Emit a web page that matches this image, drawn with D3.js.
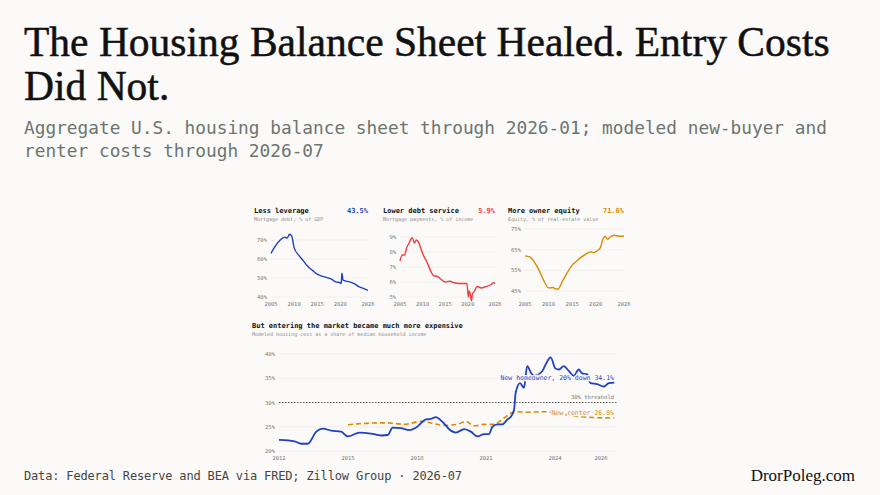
<!DOCTYPE html>
<html><head><meta charset="utf-8">
<script src="https://cdn.jsdelivr.net/npm/d3@7"></script>
<style>
body{margin:0;background:#fcfaf9;}
svg text{font-family:"DejaVu Sans Mono",monospace;}
</style></head><body>
<svg id="c" width="880" height="495"></svg>
<script>
// small panels
const leverageYears = [2005,2006,2007,2008,2008.5,2009,2009.5,2010,2011,2012,2013,2014,2015,2016,2017,2018,2019,2020,2020.2,2020.35,2020.6,2021,2022,2023,2024,2025,2026];
const leverage =      [63,67,70,71.5,71,73,72,66,62,59,56,54,52,51,50.3,49.5,48,47.5,47,52.5,49,48.5,48,47,45.5,44.5,43.5];
const serviceYears = [2005,2005.5,2006,2006.5,2007,2007.7,2008.2,2008.6,2009,2010,2011,2012,2012.5,2013,2014,2015,2016,2017,2018,2019,2019.8,2020.1,2020.3,2020.6,2020.8,2021,2021.5,2022,2023,2024,2025,2025.7,2026];
const service =      [7.4,7.8,7.8,8.3,8.6,8.95,8.6,8.8,8.7,7.9,7.3,6.6,6.4,6.4,6.2,6.0,6.05,5.95,5.9,5.9,5.9,5.0,5.4,5.1,4.75,5.2,5.4,5.7,5.6,5.7,5.8,5.95,5.9];
const equityYears = [2005,2006,2007,2008,2009,2010,2011,2011.5,2012,2013,2014,2015,2016,2017,2018,2019,2019.5,2020,2021,2021.5,2022,2022.5,2023,2024,2025,2026];
const equity =      [62,61.5,59,55,50,46.5,46.7,46,46,50,54,57.5,59.5,61.5,63,64,63.5,64,66,70,71.5,70,71,72,71.5,71.6];
// entry costs
const ownerYears = [2012,2012.68,2012.97,2013.26,2013.33,2013.62,2013.91,2014.27,2014.7,2014.99,2015.5,2016,2016.44,2016.73,2016.94,2017.3,2017.66,2017.95,2018.39,2018.6,2018.82,2019.11,2019.47,2019.69,2020.05,2020.34,2020.63,2020.92,2021.13,2021.28,2021.49,2021.71,2021.93,2022.07,2022.22,2022.29,2022.48,2022.65,2022.79,2022.97,2023.08,2023.45,2023.59,2023.81,2024.02,2024.17,2024.38,2024.6,2024.82,2025.03,2025.18,2025.4,2025.54,2025.83,2026.12,2026.34,2026.58];
const owner =      [22.3,22.0,21.5,21.5,21.8,24.0,24.6,24.2,24.0,23.0,23.8,23.6,23.2,23.3,24.8,24.7,24.3,24.8,26.5,26.6,27.0,26.0,24.2,23.8,24.5,24.0,23.0,23.5,23.5,25.0,25.5,25.5,26.5,27.0,28.5,32.0,34.0,33.0,37.5,36.0,35.5,36.5,37.8,39.3,37.0,36.8,37.5,36.5,35.5,36.8,36.0,35.8,34.0,33.8,33.3,34.0,34.1];
const renterYears = [2015,2016.29,2016.73,2017.45,2018.17,2019.18,2019.76,2020.12,2020.48,2020.92,2021.35,2021.78,2022.07,2022.29,2022.79,2023.52,2024.1,2024.82,2025.69,2026.58];
const renter =      [25.4,25.8,25.8,25.5,26.1,25.3,25.5,26.1,25.2,25.5,25.5,26.8,27.8,28.1,28.0,28.1,27.8,27.2,26.9,26.8];

const svg = d3.select("#c");
svg.append("rect").attr("x",0).attr("y",0).attr("width",880).attr("height",495).attr("fill","#fcfaf9");

const serif = "'Liberation Serif',serif";
[["The Housing Balance Sheet Healed. Entry Costs",56],["Did Not.",100]].forEach(([t,yy])=>
  svg.append("text").attr("x",24).attr("y",yy).style("font-family",serif).attr("font-size",41.5).attr("fill","#111")
    .attr("stroke","#111").attr("stroke-width",0.5).text(t));
svg.append("text").attr("x",24).attr("y",134).attr("font-size",17.8).attr("fill","#6b7570").text("Aggregate U.S. housing balance sheet through 2026-01; modeled new-buyer and");
svg.append("text").attr("x",24).attr("y",157).attr("font-size",17.8).attr("fill","#6b7570").text("renter costs through 2026-07");
svg.append("text").attr("x",24).attr("y",480).attr("font-size",12).attr("textLength",438).attr("fill","#444").text("Data: Federal Reserve and BEA via FRED; Zillow Group · 2026-07");
svg.append("text").attr("x",855).attr("y",481).attr("text-anchor","end").style("font-family",serif).attr("font-size",17).attr("fill","#111").text("DrorPoleg.com");

function panel(o){
  const g = svg.append("g");
  g.append("text").attr("x",o.x0-17).attr("y",213).attr("font-size",7).attr("font-weight","bold").attr("fill","#111").text(o.title);
  g.append("text").attr("x",o.x1).attr("y",213).attr("font-size",7).attr("font-weight","bold").attr("text-anchor","end").attr("fill",o.color).text(o.last);
  g.append("text").attr("x",o.x0-17).attr("y",221).attr("font-size",5).attr("fill","#888").text(o.sub);
  const x = d3.scaleLinear().domain([2005,2026]).range([o.x0,o.x1]);
  const y = d3.scaleLinear().domain(o.yd).range(o.yr);
  o.ticks.forEach(t=>{
    g.append("line").attr("x1",o.x0).attr("x2",o.x1).attr("y1",y(t)).attr("y2",y(t)).attr("stroke","#ebe9e7").attr("stroke-width",0.6);
    g.append("text").attr("x",o.x0-4).attr("y",y(t)+2).attr("font-size",5.5).attr("text-anchor","end").attr("fill","#777").text(t+"%");
  });
  [2005,2010,2015,2020,2026].forEach(t=>g.append("text").attr("x",x(t)).attr("y",306).attr("font-size",5.5).attr("text-anchor","middle").attr("fill","#777").text(t));
  g.append("path").datum(d3.zip(o.xs,o.ys)).attr("fill","none").attr("stroke",o.color).attr("stroke-width",1.4)
    .attr("d",d3.line().x(d=>x(d[0])).y(d=>y(d[1])).curve(d3.curveMonotoneX));
}
panel({title:"Less leverage",sub:"Mortgage debt, % of GDP",last:"43.5%",color:"#1f3fc4",x0:271,x1:368,yd:[40,70],yr:[297,240],ticks:[40,50,60,70],xs:leverageYears,ys:leverage});
panel({title:"Lower debt service",sub:"Mortgage payments, % of income",last:"5.9%",color:"#f23b3b",x0:400,x1:495,yd:[5,9],yr:[297,237],ticks:[5,6,7,8,9],xs:serviceYears,ys:service});
panel({title:"More owner equity",sub:"Equity, % of real-estate value",last:"71.6%",color:"#d98c00",x0:525,x1:624,yd:[45,75],yr:[291,229],ticks:[45,55,65,75],xs:equityYears,ys:equity});

// bottom chart
const x = d3.scaleLinear().domain([2012,2026]).range([279,601]);
const y = d3.scaleLinear().domain([20,40]).range([451,354]);
const b = svg.append("g");
b.append("text").attr("x",252).attr("y",328).attr("font-size",7).attr("font-weight","bold").attr("fill","#111").text("But entering the market became much more expensive");
b.append("text").attr("x",252).attr("y",336).attr("font-size",5).attr("fill","#888").text("Modeled housing cost as a share of median household income");
[20,25,35,40].forEach(t=>b.append("line").attr("x1",279).attr("x2",617).attr("y1",y(t)).attr("y2",y(t)).attr("stroke","#ebe9e7").attr("stroke-width",0.8));
[20,25,30,35,40].forEach(t=>b.append("text").attr("x",275).attr("y",y(t)+2).attr("font-size",5.5).attr("text-anchor","end").attr("fill","#777").text(t+"%"));
[2012,2015,2018,2021,2024,2026].forEach(t=>b.append("text").attr("x",x(t)).attr("y",460).attr("font-size",5.5).attr("text-anchor","middle").attr("fill","#777").text(t));
b.append("line").attr("x1",279).attr("x2",617).attr("y1",y(30)).attr("y2",y(30)).attr("stroke","#333").attr("stroke-width",0.8).attr("stroke-dasharray","1.5,1.5");
b.append("text").attr("x",614).attr("y",y(30)-4).attr("font-size",5.5).attr("text-anchor","end").attr("fill","#777").text("30% threshold");
const line = d3.line().x(d=>x(d[0])).y(d=>y(d[1])).curve(d3.curveMonotoneX);
b.append("path").datum(d3.zip(renterYears,renter)).attr("fill","none").attr("stroke","#d98c00").attr("stroke-width",1.6).attr("stroke-dasharray","5,3").attr("d",line);
b.append("path").datum(d3.zip(ownerYears,owner)).attr("fill","none").attr("stroke","#1f3fc4").attr("stroke-width",1.8).attr("d",line);
function label(t,yy,c){
  b.append("text").attr("x",614).attr("y",yy).attr("font-size",6.5).attr("text-anchor","end").attr("fill",c)
    .attr("stroke","#fcfaf9").attr("stroke-width",2.5).attr("paint-order","stroke").text(t);
}
label("New homeowner, 20% down 34.1%",y(34.6),"#1f3fc4");
label("New renter 26.8%",y(27.4),"#d98c00");
</script></body></html>
